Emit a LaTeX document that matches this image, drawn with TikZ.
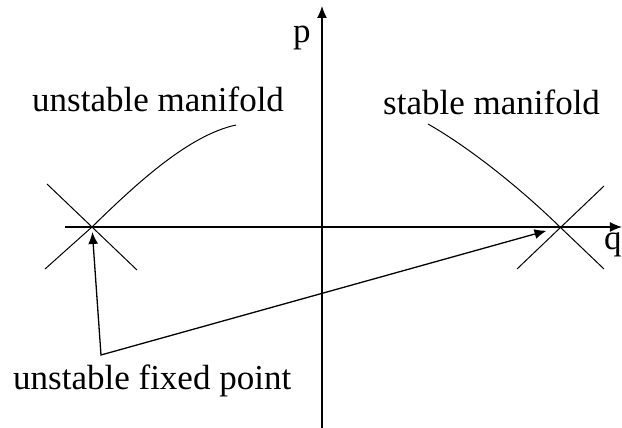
\documentclass[tikz,border=0pt]{standalone}
\usepackage{fontspec}
\setmainfont{Liberation Serif}
\usetikzlibrary{arrows.meta,calc}

\begin{document}
\begin{tikzpicture}[x=1pt,y=1pt,>={Latex[length=12pt,width=10pt]},
    lbl/.style={inner sep=0pt,anchor=base west,font=\fontsize{35}{40}\selectfont}]
      \useasboundingbox (-322,-201) rectangle (300,227);
      % axes
      \draw[->,line width=1.3pt] (-257,0)--(300,0);
      \draw[->,line width=1.3pt] (0,-201)--(0,221);
      \node[lbl] (p) at (-29,184) {p};
      \node[lbl] (q) at (282,-23) {q};
      % fixed points and manifolds
      \coordinate (left) at (-230,0);
      \coordinate (right) at (238,0);
      \draw[line width=1pt] ($(left)+(-45,43)$)--($(left)+(45,-43)$);
      \draw[line width=1pt] ($(left)+(-47,-42)$)--(left)
        .. controls (-182,47) and (-132,92) .. (-86,102);
      \draw[line width=1pt] ($(right)+(-43,-42)$)--($(right)+(44,41)$);
      \draw[line width=1pt] (106,103) .. controls (148,79) and (198,39) .. (right)
        --($(right)+(44,-42)$);
      \node[lbl] (um) at (-290,115) {unstable manifold};
      \node[lbl] (sm) at (61,112) {stable manifold};
      % pointer to the fixed points
      \coordinate (corner) at (-221,-128);
      \draw[<->,line width=1.3pt,shorten <=5pt,shorten >=14pt] (left)--(corner)--(right);
      \node[lbl] (ufp) at (-309,-163) {unstable fixed point};
\end{tikzpicture}
\end{document}
